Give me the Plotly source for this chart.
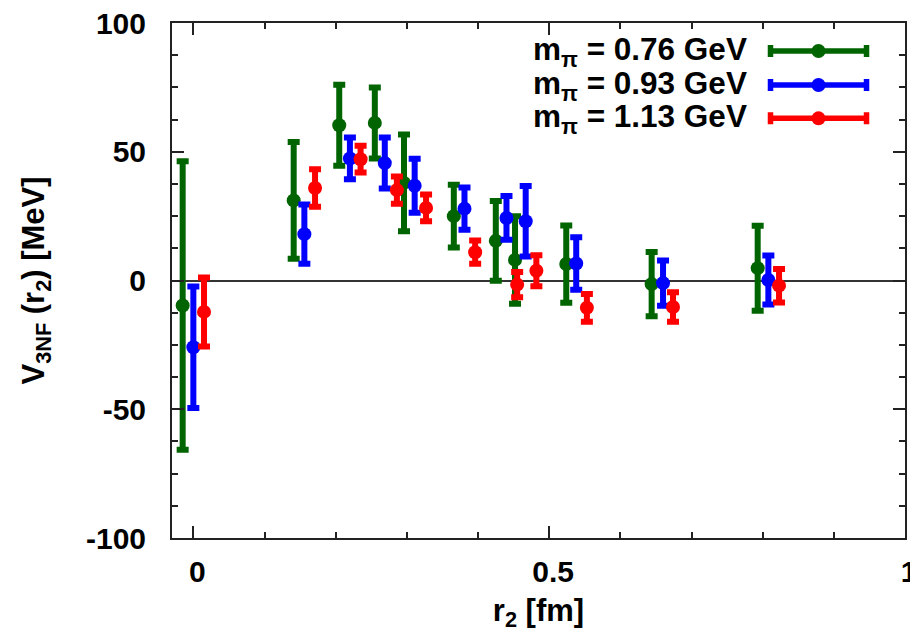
import plotly.graph_objects as go

# Three-nucleon force potential V_3NF(r2) for three pion masses
labels = ["m<sub>π</sub> = 0.76 GeV", "m<sub>π</sub> = 0.93 GeV", "m<sub>π</sub> = 1.13 GeV"]
colors = ["#006400", "#0000ff", "#ff0000"]

r2_076 = [-0.015, 0.141, 0.205, 0.255, 0.296, 0.366, 0.425, 0.452, 0.524, 0.644, 0.793]
v_076 = [-9.7, 31.1, 60.3, 61.2, 37.9, 25.0, 15.4, 8.0, 6.4, -1.4, 4.8]
err_076 = [56.0, 22.7, 15.7, 13.8, 18.8, 12.2, 15.5, 17.0, 15.0, 12.5, 16.5]

r2_093 = [0.000, 0.156, 0.220, 0.269, 0.311, 0.381, 0.440, 0.467, 0.538, 0.660, 0.808]
v_093 = [-25.9, 18.0, 47.4, 45.6, 36.8, 27.9, 24.3, 23.0, 6.6, -1.0, 0.2]
err_093 = [23.6, 11.5, 8.1, 9.9, 10.5, 8.2, 8.5, 13.7, 10.2, 8.8, 9.5]

r2_113 = [0.015, 0.171, 0.235, 0.286, 0.327, 0.396, 0.455, 0.482, 0.553, 0.674, 0.823]
v_113 = [-12.2, 35.9, 47.1, 35.1, 28.2, 11.0, -1.6, 3.8, -10.6, -10.3, -2.0]
err_113 = [13.4, 7.3, 5.2, 5.3, 5.2, 4.5, 4.9, 6.0, 5.4, 5.7, 6.5]

x_tick_vals = [0, 0.5, 1]
x_tick_text = ["0", "0.5", "1"]
y_tick_vals = [-100, -50, 0, 50, 100]
y_tick_text = ["-100", "-50", "0", "50", "100"]

series = [(r2_076, v_076, err_076), (r2_093, v_093, err_093), (r2_113, v_113, err_113)]

FONT = "Liberation Sans, Arial, Helvetica, sans-serif"
fig = go.Figure()

for (xs, ys, es), col, lab in zip(series, colors, labels):
    fig.add_trace(go.Scatter(
        x=xs, y=ys, mode="markers", name=lab, showlegend=False,
        marker=dict(symbol="circle", size=14, color=col),
        error_y=dict(type="data", array=es, visible=True, color=col,
                     thickness=6, width=6),
    ))

# Legend keys drawn on an overlay axis spanning the plot area (0..1 both ways)
key_x = 0.882
key_half = 0.0655
key_rows = [0.9456, 0.8796, 0.8149]
for col, lab, ky in zip(colors, labels, key_rows):
    fig.add_trace(go.Scatter(
        x=[key_x], y=[ky], mode="markers", showlegend=False, hoverinfo="skip",
        xaxis="x2", yaxis="y2", cliponaxis=False,
        marker=dict(symbol="circle", size=14, color=col),
        error_x=dict(type="data", array=[key_half], visible=True, color=col,
                     thickness=5.5, width=6),
    ))
    fig.add_annotation(
        x=0.7872, y=ky, xref="paper", yref="paper", xanchor="right", yanchor="middle",
        text=lab, showarrow=False,
        font=dict(family=FONT, size=31.5, color="black", weight="bold"),
    )

axis_common = dict(
    showline=True, linecolor="#222", linewidth=2, mirror="ticks",
    ticks="inside", tickcolor="#222", tickwidth=2, ticklen=12,
    showgrid=False, automargin=False,
    tickfont=dict(family=FONT, size=30, color="black", weight="bold"),
)

fig.update_layout(
    width=910, height=639,
    margin=dict(l=172, r=5, t=23, b=101),
    paper_bgcolor="white", plot_bgcolor="white",
    xaxis=dict(
        range=[-0.03, 1.0], tickmode="array", tickvals=x_tick_vals, ticktext=x_tick_text,
        zeroline=False, ticklabelstandoff=6, ticklabelshift=4, ticklabeloverflow="allow",
        minor=dict(tickmode="linear", tick0=0, dtick=0.1, ticks="inside", ticklen=6,
                   tickcolor="#222", tickwidth=1.5),
        title=dict(text="r<sub>2</sub> [fm]", standoff=12,
                   font=dict(family=FONT, size=31, color="black", weight="bold")),
        **axis_common,
    ),
    yaxis=dict(
        range=[-100, 100], tickmode="array", tickvals=y_tick_vals, ticktext=y_tick_text,
        zeroline=True, zerolinecolor="#333", zerolinewidth=1.5, ticklabelstandoff=18,
        minor=dict(tickmode="linear", tick0=0, dtick=12.5, ticks="inside", ticklen=6,
                   tickcolor="#222", tickwidth=1.5),
        title=dict(text="V<sub>3NF</sub> (r<sub>2</sub>) [MeV]", standoff=32,
                   font=dict(family=FONT, size=31, color="black", weight="bold")),
        **axis_common,
    ),
    xaxis2=dict(overlaying="x", range=[0, 1], visible=False, fixedrange=True),
    yaxis2=dict(overlaying="y", range=[0, 1], visible=False, fixedrange=True),
)

fig.write_html("out.html")
